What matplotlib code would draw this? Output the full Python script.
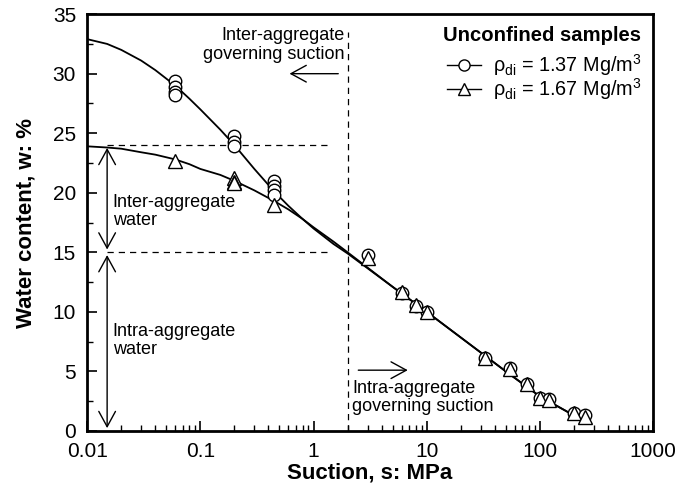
import matplotlib.pyplot as plt
from matplotlib.ticker import LogLocator, NullFormatter, FixedLocator

plt.rcParams['font.family'] = ['Liberation Sans', 'DejaVu Sans']
plt.rcParams['mathtext.fontset'] = 'custom'
plt.rcParams['mathtext.rm'] = 'Liberation Sans'
plt.rcParams['mathtext.it'] = 'Liberation Sans'

# measured points, rho_di = 1.37
s_low = [0.06, 0.06, 0.06, 0.06, 0.2, 0.2, 0.2, 0.45, 0.45, 0.45, 0.45,
         3, 6, 8, 10, 33, 55, 77, 100, 120, 200, 250]
w_low = [29.4, 28.9, 28.5, 28.2, 24.8, 24.3, 23.9, 21.0, 20.6, 20.2, 19.8,
         14.8, 11.6, 10.5, 10.0, 6.1, 5.3, 3.9, 2.8, 2.7, 1.5, 1.3]
# measured points, rho_di = 1.67
s_high = [0.06, 0.2, 0.2, 0.2, 0.45, 3, 6, 8, 10, 33, 55, 77, 100, 120, 200, 250]
w_high = [22.7, 21.2, 20.9, 20.8, 19.0, 14.5, 11.7, 10.6, 10.0, 6.1, 5.2,
          3.9, 2.8, 2.6, 1.5, 1.2]

# fitted curves
fit_s = [0.01, 0.015, 0.02, 0.03, 0.04, 0.06, 0.08, 0.1, 0.15, 0.2, 0.3, 0.45,
         0.6, 0.8, 1, 1.5, 2, 5, 10, 50, 100, 200]
fit_low = [32.9, 32.5, 32.0, 31.1, 30.3, 29.0, 27.9, 27.0, 25.3, 24.0, 22.0, 20.1,
           18.9, 17.8, 17.0, 15.7, 14.9, 12.1, 10.0, 5.0, 2.9, 1.3]
fit_high = [23.9, 23.8, 23.7, 23.4, 23.2, 22.8, 22.4, 22.0, 21.5, 21.0, 20.2, 19.3,
            18.6, 17.8, 17.1, 15.9, 15.0, 12.1, 10.0, 5.0, 2.9, 1.3]


def main():
	fig = plt.figure(figsize=(6.76, 4.88), dpi=100)
	ax = fig.add_axes([0.129, 0.117, 0.837, 0.854])

	ax.plot(fit_s, fit_low, color='black', lw=1.3)
	ax.plot(fit_s, fit_high, color='black', lw=1.3)
	ax.plot(s_low, w_low, 'o', ms=9, mfc='white', mec='black', mew=1.0, zorder=3)
	ax.plot(s_high, w_high, '^', ms=10, mfc='white', mec='black', mew=1.0, zorder=4)

	# legend handles
	h1, = ax.plot([], [], '-o', color='black', ms=8, mfc='white', lw=1.0)
	h2, = ax.plot([], [], '-^', color='black', ms=9, mfc='white', lw=1.0)
	leg = ax.legend([h1, h2],
		[r'$\rho_{\rm di}$ = 1.37 Mg/m$^3$', r'$\rho_{\rm di}$ = 1.67 Mg/m$^3$'],
		title='Unconfined samples', loc='upper right', frameon=False,
		fontsize=14.3, title_fontproperties={'weight': 'bold', 'size': 14.6},
		handlelength=1.7, handletextpad=0.6, borderaxespad=0.2, labelspacing=-0.1,
		borderpad=0.4)
	leg._legend_box.align = 'right'
	leg._legend_box.sep = 5

	# guide lines
	ax.plot([0.015, 1.4], [24, 24], ls=(0, (5, 4)), color='black', lw=0.9)
	ax.plot([0.015, 1.4], [15, 15], ls=(0, (5, 4)), color='black', lw=0.9)
	ax.plot([2, 2], [0, 33.5], ls=(0, (5, 4)), color='black', lw=0.9)

	arr = dict(arrowstyle='<->,head_length=0.55,head_width=0.3', color='black',
		lw=1.0, mutation_scale=20)
	ax.annotate('', xy=(0.015, 24), xytext=(0.015, 15), arrowprops=arr)
	ax.annotate('', xy=(0.015, 15), xytext=(0.015, 0), arrowprops=arr)
	one = dict(arrowstyle='->,head_length=0.55,head_width=0.3', color='black',
		lw=1.0, mutation_scale=20)
	ax.annotate('', xy=(0.58, 30.0), xytext=(1.75, 30.0), arrowprops=one)
	ax.annotate('', xy=(7.2, 5.1), xytext=(2.35, 5.1), arrowprops=one)

	ax.text(0.0168, 18.4, 'Inter-aggregate\nwater', fontsize=13, va='center', linespacing=1.1)
	ax.text(0.0168, 7.6, 'Intra-aggregate\nwater', fontsize=13, va='center', linespacing=1.1)
	ax.text(1.88, 32.4, 'Inter-aggregate\ngoverning suction', fontsize=13, va='center',
		ha='right', linespacing=1.1)
	ax.text(2.2, 2.8, 'Intra-aggregate\ngoverning suction', fontsize=13, va='center',
		ha='left', linespacing=1.1)

	ax.set_xscale('log')
	ax.set_xlim(0.01, 1000)
	ax.set_ylim(0, 35)
	ax.set_xticks([0.01, 0.1, 1, 10, 100, 1000])
	ax.set_xticklabels(['0.01', '0.1', '1', '10', '100', '1000'])
	ax.xaxis.set_minor_locator(LogLocator(base=10, subs=range(2, 10), numticks=20))
	ax.xaxis.set_minor_formatter(NullFormatter())
	ax.set_yticks(range(0, 36, 5))
	ax.yaxis.set_minor_locator(FixedLocator([2.5 + 5 * i for i in range(7)]))
	ax.tick_params(which='both', direction='in', top=False, right=False, labelsize=15)
	ax.tick_params(which='major', length=7, width=1.2)
	ax.tick_params(axis='x', which='major', pad=8)
	ax.tick_params(axis='y', which='major', pad=8)
	ax.tick_params(which='minor', length=4, width=1.0)
	for sp in ax.spines.values():
		sp.set_linewidth(2.0)

	ax.set_xlabel('Suction, s: MPa', fontsize=16, fontweight='bold', labelpad=1)
	ax.set_ylabel('Water content, w: %', fontsize=16, fontweight='bold', labelpad=12)

	fig.savefig('out.png', dpi=100)


if __name__ == '__main__':
	main()
